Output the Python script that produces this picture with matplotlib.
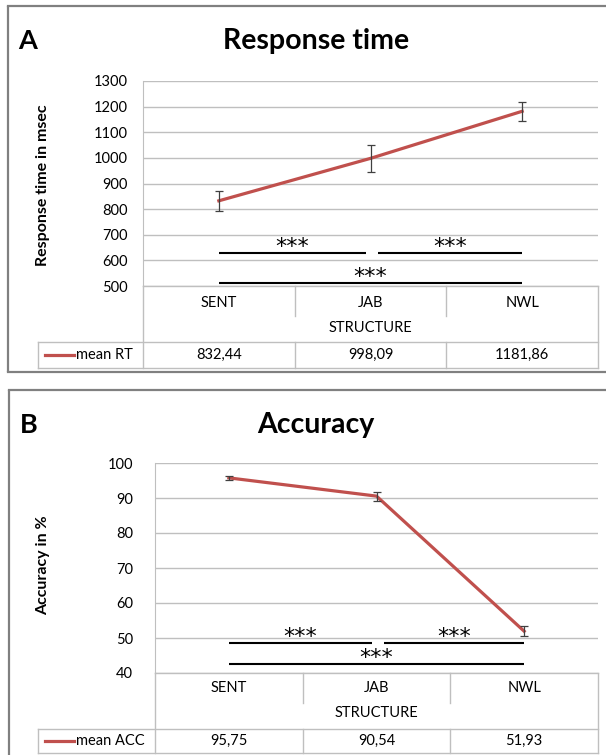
import matplotlib
matplotlib.use('Agg')
import matplotlib.pyplot as plt
import numpy as np

# ---------------- data ----------------
categories = ['SENT', 'JAB', 'NWL']
x_title = 'STRUCTURE'
rt_mean = [832.44, 998.09, 1181.86]
rt_err = [40, 52, 38]
rt_ticks = [500, 600, 700, 800, 900, 1000, 1100, 1200, 1300]
acc_mean = [95.75, 90.54, 51.93]
acc_err = [0.6, 1.3, 1.4]
acc_ticks = [40, 50, 60, 70, 80, 90, 100]
sig_pairs = [(0, 1), (1, 2), (0, 2)]
sig_label = '***'

# ---------------- style ----------------
W, H = 606, 755
FONT = ['Lato', 'DejaVu Sans']
RED = '#C0504D'
GRID = '#BFBFBF'
FRAME = '#808080'
PLOT_R = 598

fig = plt.figure(figsize=(W / 100, H / 100), dpi=100)
fig.patch.set_facecolor('white')

ov = fig.add_axes([0, 0, 1, 1])
ov.set_xlim(0, W)
ov.set_ylim(H, 0)
ov.axis('off')


def px_axes(x0, y0, x1, y1):
    return fig.add_axes([x0 / W, 1 - y1 / H, (x1 - x0) / W, (y1 - y0) / H])


def fmt(v):
    return f'{v:.2f}'.replace('.', ',')


def draw_panel(c, means, errs, ticks):
    # outer frame
    fl, ft, fb = c['frame']
    ov.plot([fl, fl], [ft, fb], color=FRAME, lw=1.6, solid_capstyle='butt')
    ov.plot([fl, W + 10], [ft, ft], color=FRAME, lw=1.6)
    ov.plot([fl, W + 10], [fb, fb], color=FRAME, lw=1.6)
    # letter and title
    ov.text(c['letter_x'], c['title_base'], c['letter'], fontsize=19.5, fontweight='bold',
            family=FONT, ha='left', va='baseline')
    ov.text(316, c['title_base'], c['title'], fontsize=20.5, fontweight='bold',
            family=FONT, ha='center', va='baseline')
    ov.text(43, c['ylabel_y'], c['ylabel'], fontsize=11.5, fontweight='bold',
            family=FONT, ha='center', va='center', rotation=90)

    pl, pt, pb = c['plot_l'], c['plot_t'], c['plot_b']
    ax = px_axes(pl, pt, PLOT_R, pb)
    ax.set_facecolor('none')
    n = len(categories)
    ax.set_xlim(-0.5, n - 0.5)
    ax.set_ylim(ticks[0], ticks[-1])
    ax.set_yticks(ticks)
    ax.set_yticklabels([str(t) for t in ticks], family=FONT, fontsize=10.5)
    ax.tick_params(axis='y', length=0, pad=c['pad'])
    ax.set_xticks([])
    for s in ['top', 'right', 'bottom']:
        ax.spines[s].set_visible(False)
    ax.spines['left'].set_color(GRID)
    ax.grid(axis='y', color=GRID, lw=1)
    ax.set_axisbelow(True)
    x = np.arange(n)
    ax.plot(x, means, color=RED, lw=2.3, zorder=3)
    ax.errorbar(x, means, yerr=errs, fmt='none', ecolor='#404040', elinewidth=0.9,
                capsize=3.2, capthick=0.9, zorder=4)
    # significance bars
    for (a, b), lvl in zip(sig_pairs, c['sig_levels']):
        x0 = a + (0.05 if a > 0 else 0.0)
        x1 = b - (0.03 if (b - a) == 1 and a == 0 else 0.0)
        ax.plot([x0, x1], [lvl, lvl], color='black', lw=1.5, clip_on=False, zorder=5,
                solid_capstyle='butt')
        ax.annotate(sig_label, xy=((x0 + x1) / 2, lvl), xytext=(0, 0.2),
                    textcoords='offset points', family='DejaVu Sans', fontsize=16,
                    ha='center', va='baseline', annotation_clip=False, zorder=5)

    # table
    sep_b, dt, db, ll = c['sep_b'], c['data_t'], c['data_b'], c['legend_l']
    edges = [pl + (PLOT_R - pl) * i / n for i in range(n + 1)]
    lw = 1.0
    ov.plot([pl, PLOT_R], [pb, pb], color=GRID, lw=lw)
    ov.plot([pl, pl], [pb, db], color=GRID, lw=lw)
    ov.plot([PLOT_R, PLOT_R], [pb, db], color=GRID, lw=lw)
    for e in edges[1:-1]:
        ov.plot([e, e], [pb, sep_b], color=GRID, lw=lw)
        ov.plot([e, e], [dt, db], color=GRID, lw=lw)
    ov.plot([ll, PLOT_R], [dt, dt], color=GRID, lw=lw)
    ov.plot([ll, PLOT_R], [db, db], color=GRID, lw=lw)
    ov.plot([ll, ll], [dt, db], color=GRID, lw=lw)
    for i, cat in enumerate(categories):
        cx = (edges[i] + edges[i + 1]) / 2
        ov.text(cx, c['cat_y'], cat, family=FONT, fontsize=10.5, ha='center', va='center')
        ov.text(cx, (dt + db) / 2, fmt(means[i]), family=FONT, fontsize=10.5,
                ha='center', va='center')
    ov.text((pl + PLOT_R) / 2, c['struct_y'], x_title, family=FONT, fontsize=10.5,
            ha='center', va='center')
    ym = (dt + db) / 2
    ov.plot([ll + 7, ll + 36], [ym, ym], color=RED, lw=2.3)
    ov.text(ll + 38, ym, c['legend'], family=FONT, fontsize=10.5, ha='left', va='center')


panelA = dict(frame=(8, 6, 372), letter='A', letter_x=18, title='Response time', title_base=49,
              ylabel='Response time in msec', ylabel_y=185,
              plot_l=143, plot_t=81, plot_b=286, pad=11,
              sig_levels=[628, 628, 510],
              sep_b=316, data_t=342, data_b=368, legend_l=38,
              cat_y=303, struct_y=328, legend='mean RT')
panelB = dict(frame=(9, 390, H + 10), letter='B', letter_x=20, title='Accuracy', title_base=433,
              ylabel='Accuracy in %', ylabel_y=565,
              plot_l=155, plot_t=463, plot_b=673, pad=16,
              sig_levels=[48.6, 48.6, 42.6],
              sep_b=703, data_t=729, data_b=753, legend_l=38,
              cat_y=688, struct_y=713, legend='mean ACC')

draw_panel(panelA, rt_mean, rt_err, rt_ticks)
draw_panel(panelB, acc_mean, acc_err, acc_ticks)

fig.savefig('out.png', dpi=100)
